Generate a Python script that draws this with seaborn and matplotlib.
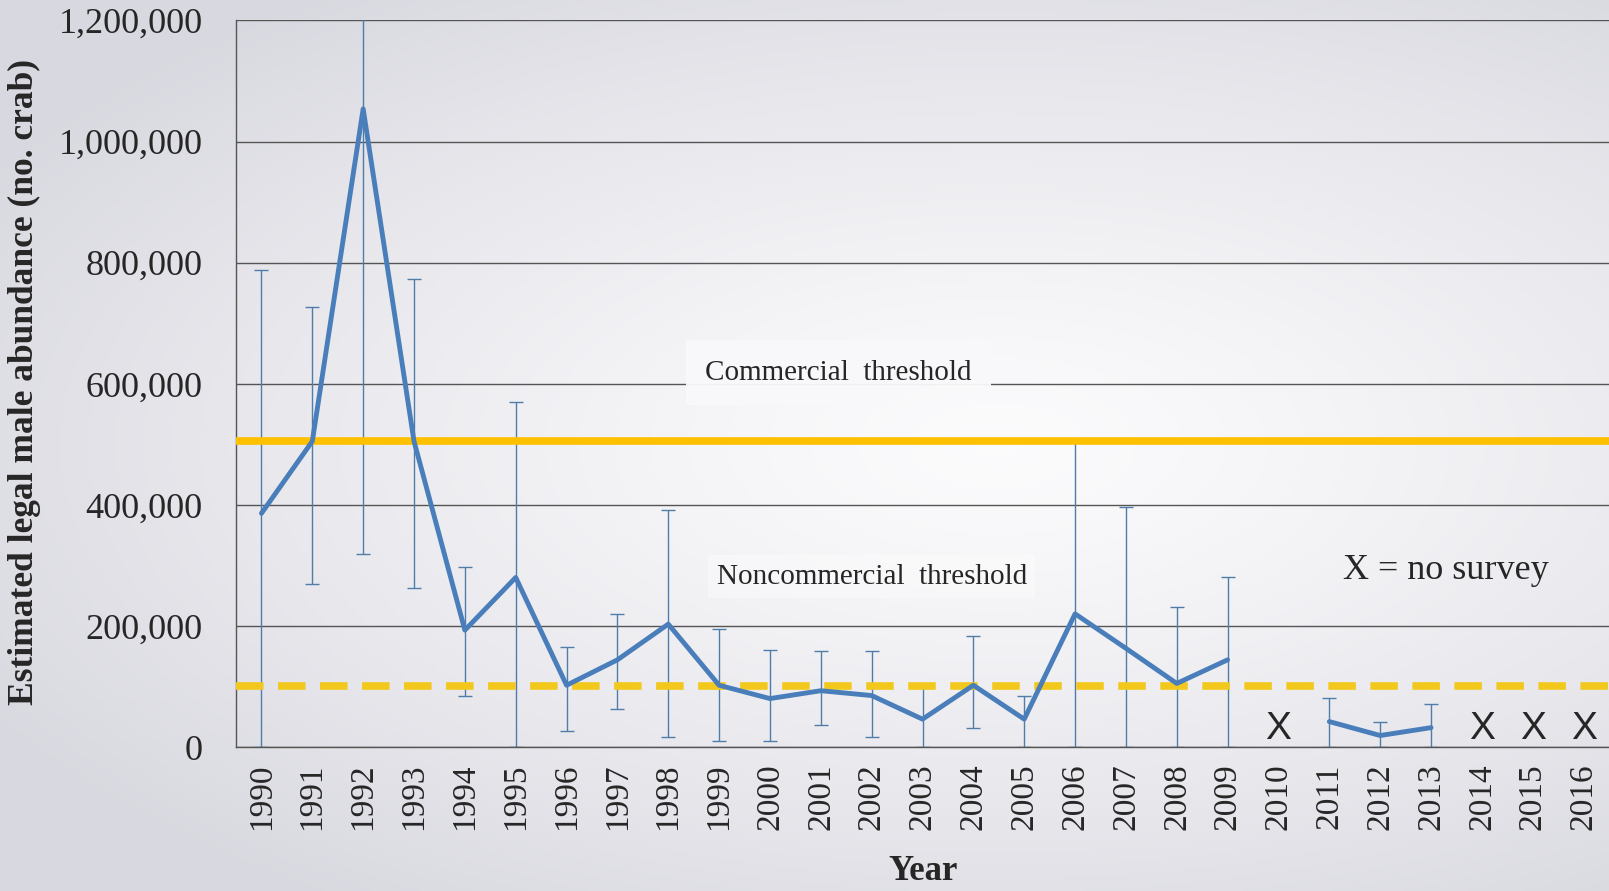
import numpy as np
import pandas as pd
import seaborn as sns
import matplotlib.pyplot as plt
from matplotlib.ticker import FuncFormatter

# data
years = list(range(1990, 2017))
abundance = [386000, 505000, 1054000, 505000, 193000, 280000, 102000, 144000, 203000, 102000,
             80000, 93000, 85000, 46000, 102000, 46000, 220000, 163000, 105000, 144000,
             np.nan, 42000, 19000, 32000, np.nan, np.nan, np.nan]
err_high = [788000, 727000, 1780000, 773000, 297000, 570000, 166000, 219000, 392000, 195000,
            161000, 159000, 159000, 98000, 183000, 85000, 505000, 397000, 232000, 281000,
            np.nan, 81000, 42000, 71000, np.nan, np.nan, np.nan]
err_low = [0, 270000, 319000, 263000, 85000, 0, 27000, 63000, 17000, 10000,
           10000, 36000, 17000, 0, 31000, 0, 0, 0, 0, 0,
           np.nan, 0, 0, 0, np.nan, np.nan, np.nan]
no_survey = [2010, 2014, 2015, 2016]
commercial_threshold = 505000
noncommercial_threshold = 100000

df = pd.DataFrame({"year": years, "abundance": abundance, "hi": err_high, "lo": err_low})
df["pos"] = np.arange(len(df))
# break the line where there was no survey
df["segment"] = df["abundance"].isna().cumsum()
line_df = df.dropna(subset=["abundance"])

sns.set_style("white")
plt.rcParams["font.family"] = ["Liberation Serif", "DejaVu Serif"]

fig = plt.figure(figsize=(16.09, 8.91), dpi=100)

# soft gray gradient background
bg = fig.add_axes([0, 0, 1, 1])
gx, gy = np.meshgrid(np.linspace(0, 1, 400), np.linspace(0, 1, 220))
r = np.clip(np.sqrt(((gx - 0.62) / 0.72) ** 2 + ((gy - 0.5) / 0.62) ** 2), 0, 1) ** 1.3
edge = np.array([0.85, 0.85, 0.88])
img = (1 - r[..., None]) * np.array([0.985, 0.985, 0.99]) + r[..., None] * edge
bg.imshow(img, extent=[0, 1, 0, 1], aspect="auto", origin="lower")
bg.axis("off")

ax = fig.add_axes([0.1467, 0.1616, 0.8533, 0.8154])
ax.set_facecolor("none")

# error bars
ax.errorbar(df["pos"], df["abundance"],
            yerr=[df["abundance"] - df["lo"], df["hi"] - df["abundance"]],
            fmt="none", ecolor="#4f7ca8", elinewidth=1, capsize=5, capthick=1, zorder=2)

sns.lineplot(data=line_df, x="pos", y="abundance", units="segment", estimator=None,
             color="#4a7ebb", linewidth=3.5, ax=ax, zorder=4)

ax.axhline(commercial_threshold, color="#FFC000", linewidth=5.5, zorder=3)
ax.axhline(noncommercial_threshold, color="#F2C81C", linewidth=5.5, dashes=(3.6, 1.9), zorder=3)

ax.text(11.35, 618000, "Commercial  threshold", fontsize=21, ha="center", va="center",
        bbox=dict(facecolor="#f9f9fb", edgecolor="none", pad=14, alpha=0.95), zorder=3)
ax.text(12.0, 281000, "Noncommercial  threshold", fontsize=21, ha="center", va="center",
        bbox=dict(facecolor="white", edgecolor="none", pad=6, alpha=0.35), zorder=3)
ax.text(23.3, 291000, "X = no survey", fontsize=26, ha="center", va="center", zorder=3)
for yr in no_survey:
    ax.text(years.index(yr), 30000, "X", family=["Liberation Sans"], fontsize=28,
            ha="center", va="center", zorder=5)

ax.set_xlim(-0.5, len(years) - 0.5)
ax.set_ylim(0, 1200000)
ax.set_yticks(np.arange(0, 1200001, 200000))
ax.yaxis.set_major_formatter(FuncFormatter(lambda v, p: f"{int(v):,}"))
ax.grid(axis="y", color="#555555", linewidth=1)
ax.set_axisbelow(True)

ax.set_xticks(df["pos"])
ax.set_xticklabels([str(y) for y in years], rotation=90)
ax.set_xticks(np.arange(-0.5, len(years), 1), minor=True)
ax.tick_params(axis="x", which="major", length=0, labelsize=24, pad=12)
ax.tick_params(axis="x", which="minor", length=10, color="#555555", width=1, direction="out")
ax.tick_params(axis="y", length=7, color="#555555", width=1, direction="out", labelsize=26, pad=17)

for s in ["top", "right"]:
    ax.spines[s].set_visible(False)
for s in ["left", "bottom"]:
    ax.spines[s].set_color("#555555")
    ax.spines[s].set_linewidth(1)

ax.set_xlabel("")
ax.set_ylabel("Estimated legal male abundance (no. crab)", fontsize=25.5, fontweight="bold")
ax.yaxis.set_label_coords(-0.142, 0.502)
fig.text(923 / 1609, 1 - 872 / 891, "Year", fontsize=25, fontweight="bold", ha="center", va="center")

fig.savefig("out.png", dpi=100)
